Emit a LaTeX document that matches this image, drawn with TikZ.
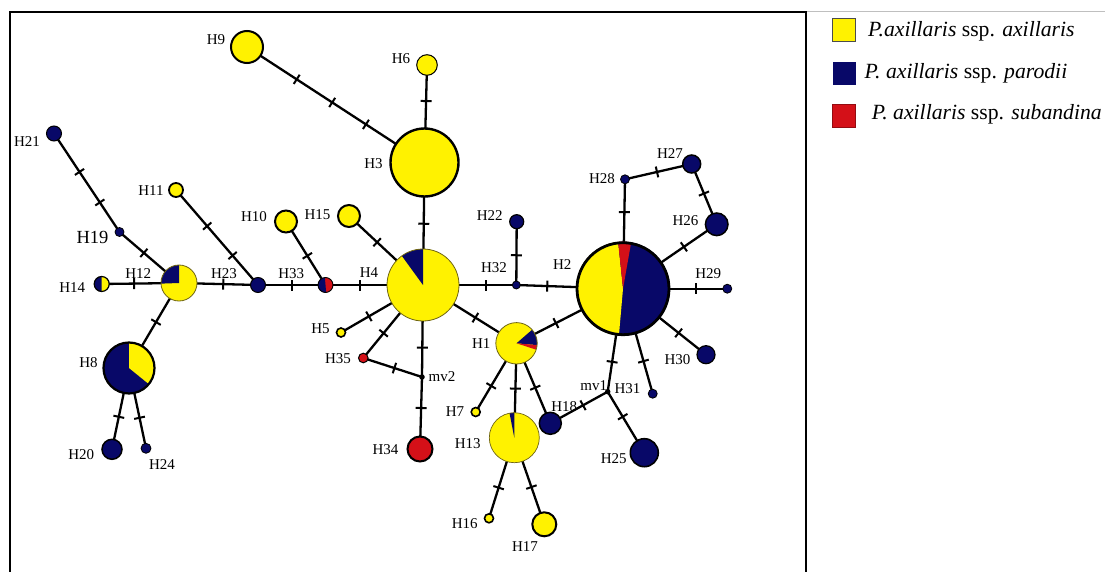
\documentclass[tikz,border=0pt]{standalone}
\usepackage{fontspec}
\setmainfont{Liberation Serif}
\pgfdeclarelayer{edges}
\pgfsetlayers{edges,main}

\definecolor{ssyel}{RGB}{255,242,0}
\definecolor{ssnavy}{RGB}{8,8,104}
\definecolor{ssred}{RGB}{212,16,24}
\definecolor{pieline}{RGB}{110,100,20}

% a pie slice inside a haplotype circle (angles counted anticlockwise on the page)
\newcommand\pieslice[5]{%
  \fill[#5] (#1.center) -- ++({-(#3)}:#2) arc[start angle={-(#3)}, end angle={-(#4)}, radius=#2] -- cycle;}
% outline of a pie circle, drawn over its slices
\newcommand\piering[4]{\draw[#3, line width=#4] (#1.center) circle[radius=#2];}

\begin{document}
\begin{tikzpicture}[x=1pt,y=-1pt,
  hap/.style={circle, inner sep=0pt, minimum size=#1, draw=black, line width=1.5pt},
  hap/.default=10,
  mvdot/.style={circle, inner sep=0pt, minimum size=5.5, fill=black},
  link/.style={line width=2.3pt},
  mut/.style={pos=#1, sloped, fill=black, inner sep=0pt, minimum width=2pt, minimum height=11pt},
  lab/.style={font=\fontsize{15}{15}\selectfont, inner sep=0pt},
  key/.style={minimum size=23, inner sep=0pt},
  keytext/.style={anchor=base west, inner sep=0pt, font=\fontsize{21.7}{21.7}\selectfont}]
\useasboundingbox (0,0) rectangle (1116,572);

% frame of the network and the rule over the key
\draw[line width=2.4pt] (10,574) -- (10,12) -- (806,12) -- (806,574);
\draw[black!25, line width=0.8pt] (807,11) -- (1105,11);

% haplotypes
\node[hap=32, fill=ssyel, line width=2pt] (H9) at (247,47) {};
\node[hap=20.6, fill=ssyel, line width=1pt] (H6) at (427,65) {};
\node[hap=68, fill=ssyel, line width=2.4pt] (H3) at (424.5,162.5) {};
\node[hap=22, fill=ssyel, line width=2pt] (H15) at (349,216) {};
\node[hap=22, fill=ssyel, line width=2pt] (H10) at (286,221.5) {};
\node[hap=14, fill=ssyel, line width=1.8pt] (H11) at (176,190) {};
\node[hap=15, fill=ssnavy, line width=1pt] (H21) at (54,133.5) {};
\node[hap=9, fill=ssnavy, line width=0.8pt] (H19) at (119.5,232) {};
\node[hap=15, fill=ssnavy, line width=1pt] (H23) at (258,285) {};
\node[hap=9, fill=ssyel, line width=1.6pt] (H5) at (341,332.5) {};
\node[hap=9.6, fill=ssred, line width=1pt] (H35) at (363.3,358) {};
\node[mvdot] (mv2) at (422,377) {};
\node[hap=25, fill=ssred, line width=2pt] (H34) at (420,449) {};
\node[hap=9, fill=ssyel, line width=1.6pt] (H7) at (475.7,412) {};
\node[hap=9, fill=ssyel, line width=1.6pt] (H16) at (489,518.3) {};
\node[hap=24, fill=ssyel, line width=2pt] (H17) at (544.3,524.3) {};
\node[hap=22, fill=ssnavy, line width=1.5pt] (H18) at (550.3,423.3) {};
\node[mvdot] (mv1) at (607.7,391.7) {};
\node[hap=28, fill=ssnavy, line width=1.6pt] (H25) at (644.3,452.7) {};
\node[hap=9, fill=ssnavy, line width=0.8pt] (H31) at (652.7,393.7) {};
\node[hap=18, fill=ssnavy, line width=1.2pt] (H30) at (706,354.7) {};
\node[hap=9, fill=ssnavy, line width=0.8pt] (H29) at (727.3,288.7) {};
\node[hap=22.6, fill=ssnavy, line width=1.5pt] (H26) at (716.7,224.3) {};
\node[hap=18, fill=ssnavy, line width=1.5pt] (H27) at (691.7,164) {};
\node[hap=9, fill=ssnavy, line width=0.8pt] (H28) at (625,179.3) {};
\node[hap=14, fill=ssnavy, line width=1.2pt] (H22) at (516.7,221.7) {};
\node[hap=8, fill=ssnavy, line width=0.8pt] (H32) at (516.3,285) {};
\node[hap=20, fill=ssnavy, line width=1.5pt] (H20) at (112,449.3) {};
\node[hap=10, fill=ssnavy, line width=0.8pt] (H24) at (146,448.3) {};

% mixed haplotypes (pie charts)
\node[hap=36, fill=ssyel, draw=none] (H12) at (179,283) {};
\pieslice{H12}{18}{90}{182}{ssnavy}
\piering{H12}{18}{pieline}{0.8pt}
\node[hap=15, fill=ssyel, draw=none] (H14) at (101.7,284) {};
\pieslice{H14}{7.5}{90}{270}{ssnavy}
\piering{H14}{7.5}{black}{1.2pt}
\node[hap=15, fill=ssred, draw=none] (H33) at (325.5,285) {};
\pieslice{H33}{7.5}{95}{275}{ssnavy}
\piering{H33}{7.5}{black}{0.9pt}
\node[hap=72, fill=ssyel, draw=none] (H4) at (423,285) {};
\pieslice{H4}{36}{90}{126}{ssnavy}
\piering{H4}{36}{pieline}{0.8pt}
\node[hap=41.4, fill=ssyel, draw=none] (H1) at (516.5,343.3) {};
\pieslice{H1}{20.7}{-5}{41}{ssnavy}
\pieslice{H1}{20.7}{-18}{-5}{ssred}
\piering{H1}{20.7}{pieline}{0.8pt}
\node[hap=50, fill=ssyel, draw=none] (H13) at (514.3,437.7) {};
\pieslice{H13}{25}{90}{101}{ssnavy}
\piering{H13}{25}{pieline}{0.7pt}
\node[hap=94, fill=ssnavy, draw=none] (H2) at (623,288.7) {};
\pieslice{H2}{47}{96}{265}{ssyel}
\pieslice{H2}{47}{80}{96}{ssred}
\piering{H2}{46}{black}{2.8pt}
\node[hap=52, fill=ssnavy, draw=none] (H8) at (129,368) {};
\pieslice{H8}{26}{-39}{90}{ssyel}
\piering{H8}{25.5}{black}{2.2pt}

% links with one bar per mutational step
\begin{pgfonlayer}{edges}
\draw[link] (H9.center) -- node[mut=0.28]{} node[mut=0.48]{} node[mut=0.67]{} (H3.center);
\draw[link] (H6.center) -- node[mut=0.37]{} (H3.center);
\draw[link] (H3.center) -- node[mut=0.50]{} (H4.center);
\draw[link] (H15.center) -- node[mut=0.38]{} (H4.center);
\draw[link] (H4.center) -- node[mut=0.646]{} (H33.center);
\draw[link] (H33.center) -- node[mut=0.50]{} (H23.center);
\draw[link] (H10.center) -- node[mut=0.54]{} (H33.center);
\draw[link] (H11.center) -- node[mut=0.38]{} node[mut=0.69]{} (H23.center);
\draw[link] (H23.center) -- node[mut=0.44]{} (H12.center);
\draw[link] (H12.center) -- node[mut=0.59]{} (H19.center);
\draw[link] (H19.center) -- node[mut=0.30]{} node[mut=0.61]{} (H21.center);
\draw[link] (H12.center) -- node[mut=0.58]{} (H14.center);
\draw[link] (H12.center) -- node[mut=0.46]{} (H8.center);
\draw[link] (H8.center) -- node[mut=0.60]{} (H20.center);
\draw[link] (H8.center) -- node[mut=0.62]{} (H24.center);
\draw[link] (H4.center) -- node[mut=0.66]{} (H5.center);
\draw[link] (H4.center) -- node[mut=0.66]{} (H35.center);
\draw[link] (H35.center) -- node[mut=0.53]{} (mv2.center);
\draw[link] (H4.center) -- node[mut=0.68]{} (mv2.center);
\draw[link] (mv2.center) -- node[mut=0.43]{} (H34.center);
\draw[link] (H4.center) -- node[mut=0.56]{} (H1.center);
\draw[link] (H4.center) -- node[mut=0.67]{} (H32.center);
\draw[link] (H32.center) -- node[mut=0.47]{} (H22.center);
\draw[link] (H32.center) -- node[mut=0.29]{} (H2.center);
\draw[link] (H2.center) -- node[mut=0.70]{} (H28.center);
\draw[link] (H28.center) -- node[mut=0.48]{} (H27.center);
\draw[link] (H27.center) -- node[mut=0.49]{} (H26.center);
\draw[link] (H2.center) -- node[mut=0.65]{} (H26.center);
\draw[link] (H2.center) -- node[mut=0.70]{} (H29.center);
\draw[link] (H2.center) -- node[mut=0.67]{} (H30.center);
\draw[link] (H2.center) -- node[mut=0.69]{} (H31.center);
\draw[link] (H2.center) -- node[mut=0.71]{} (mv1.center);
\draw[link] (mv1.center) -- node[mut=0.43]{} (H18.center);
\draw[link] (mv1.center) -- node[mut=0.41]{} (H25.center);
\draw[link] (H2.center) -- node[mut=0.63]{} (H1.center);
\draw[link] (H1.center) -- node[mut=0.62]{} (H7.center);
\draw[link] (H1.center) -- node[mut=0.48]{} (H13.center);
\draw[link] (H1.center) -- node[mut=0.555]{} (H18.center);
\draw[link] (H13.center) -- node[mut=0.62]{} (H16.center);
\draw[link] (H13.center) -- node[mut=0.57]{} (H17.center);
\end{pgfonlayer}

% haplotype names
\node[lab] (lH9) at (216,40) {H9};
\node[lab] (lH6) at (401,59) {H6};
\node[lab] (lH3) at (373.5,164) {H3};
\node[lab] (lH21) at (27,142) {H21};
\node[lab] (lH11) at (151,191) {H11};
\node[lab] (lH10) at (254,216.5) {H10};
\node[lab] (lH15) at (317.5,214.5) {H15};
\node[lab, font=\fontsize{18.5}{18.5}\selectfont] (lH19) at (92.5,237.5) {H19};
\node[lab] (lH12) at (138.3,274) {H12};
\node[lab] (lH23) at (224,274) {H23};
\node[lab] (lH33) at (291.3,274) {H33};
\node[lab] (lH4) at (369,273) {H4};
\node[lab] (lH14) at (72.3,287.5) {H14};
\node[lab] (lH8) at (88.5,363) {H8};
\node[lab] (lH20) at (81.3,455) {H20};
\node[lab] (lH24) at (162,465) {H24};
\node[lab] (lH5) at (320.5,329) {H5};
\node[lab] (lH35) at (338,359) {H35};
\node[lab] (lH34) at (385.5,450) {H34};
\node[lab] (lmv2) at (442,376.7) {mv2};
\node[lab] (lH1) at (481.3,343.3) {H1};
\node[lab] (lH7) at (455,412) {H7};
\node[lab] (lH13) at (467.8,444) {H13};
\node[lab] (lH16) at (464.7,524) {H16};
\node[lab] (lH17) at (525,547) {H17};
\node[lab] (lH18) at (564.3,406.7) {H18};
\node[lab] (lmv1) at (593.7,386) {mv1};
\node[lab] (lH31) at (627.5,389) {H31};
\node[lab] (lH25) at (613.7,459) {H25};
\node[lab] (lH30) at (677.5,360) {H30};
\node[lab] (lH32) at (494,268) {H32};
\node[lab] (lH22) at (489.7,216) {H22};
\node[lab] (lH2) at (562.2,265) {H2};
\node[lab] (lH28) at (602,178.5) {H28};
\node[lab] (lH27) at (670,154) {H27};
\node[lab] (lH26) at (685.5,221) {H26};
\node[lab] (lH29) at (708.3,274) {H29};

% key
\node[key, fill=ssyel, draw=black!70, line width=0.6pt] (kyel) at (844.2,29.5) {};
\node[key, fill=ssnavy] (knavy) at (844.2,73.6) {};
\node[key, fill=ssred, draw=ssred!70!black, line width=0.5pt] (kred) at (844.2,115.5) {};
\node[keytext] (tyel) at (868,36.7) {\textit{P.axillaris} ssp. \textit{axillaris}};
\node[keytext] (tnavy) at (864.5,78.3) {\textit{P. axillaris} ssp. \textit{parodii}};
\node[keytext] (tred) at (871.7,120) {\textit{P. axillaris} ssp. \textit{subandina}};
\end{tikzpicture}
\end{document}
